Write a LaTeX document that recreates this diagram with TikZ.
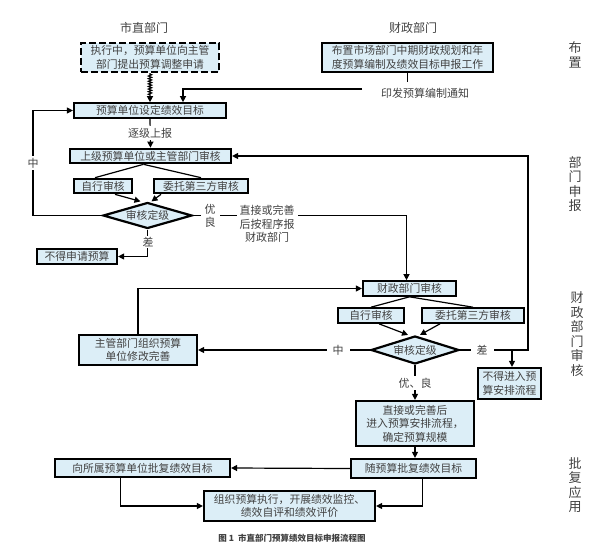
\documentclass[tikz,border=0pt]{standalone}
\usepackage{fontspec}
\setmainfont{Noto Sans CJK SC}
\usetikzlibrary{shapes.geometric,arrows.meta,decorations.pathmorphing}
\definecolor{boxfill}{RGB}{220,238,247}
\definecolor{txt}{RGB}{65,65,65}
\tikzset{
  box/.style={draw=black, line width=2.2pt, fill=boxfill, text=txt, inner xsep=0pt, inner ysep=2.2pt, align=center,
    font=\fontsize{10.8}{13.5}\selectfont},
  dbox/.style={box, dash pattern=on 7pt off 3pt},
  dia/.style={diamond, draw=black, line width=2.2pt, fill=boxfill, text=txt, inner sep=0pt, aspect=3.5,
    font=\fontsize{10.8}{13.5}\selectfont},
  conn/.style={line width=1.2pt, draw=black},
  arr/.style={conn, -{Triangle[length=6pt,width=6pt]}},
  lbl/.style={fill=white, text=txt, inner sep=1.5pt, align=center, font=\fontsize{11}{13.5}\selectfont},
  hdr/.style={text=txt, inner sep=0pt, font=\fontsize{12}{14}\selectfont},
  side/.style={text=txt, inner sep=0pt, align=center, font=\fontsize{13}{14.6}\selectfont},
}
\begin{document}
\begin{tikzpicture}[x=1pt,y=-1pt]
\useasboundingbox (0,0) rectangle (600,550);
% headers
\node[hdr] (h1) at (144,28) {市直部门};
\node[hdr] (h2) at (413,28) {财政部门};
\node[side] (s1) at (575,55) {布\\置};
\node[side] (s2) at (575,184) {部\\门\\申\\报};
\node[side] (s3) at (577,334) {财\\政\\部\\门\\审\\核};
\node[side] (s4) at (575,485) {批\\复\\应\\用};
% boxes
\node[dbox, minimum width=138pt, minimum height=29pt] (A) at (150,57.5) {执行中，预算单位向主管\\部门提出预算调整申请};
\node[box, minimum width=171pt, minimum height=29pt] (B) at (407.5,57.5) {布置市场部门中期财政规划和年\\度预算编制及绩效目标申报工作};
\node[box, minimum width=152pt, minimum height=13pt] (C) at (150,110.5) {预算单位设定绩效目标};
\node[box, minimum width=161pt, minimum height=11pt] (D) at (150.5,156) {上级预算单位或主管部门审核};
\node[box, minimum width=58pt, minimum height=13pt] (E) at (103,186) {自行审核};
\node[box, minimum width=94pt, minimum height=13pt] (F) at (201,186) {委托第三方审核};
\node[dia, minimum width=89pt, minimum height=26pt] (G) at (147.5,215.5) {审核定级};
\node[box, minimum width=80pt, minimum height=15pt] (Q) at (77,256.5) {不得申请预算};
\node[box, minimum width=93pt, minimum height=11pt] (H) at (409.5,288.5) {财政部门审核};
\node[box, minimum width=118pt, minimum height=30pt] (I) at (138,350) {主管部门组织预算\\单位修改完善};
\node[box, minimum width=66pt, minimum height=13pt] (J) at (371,315.5) {自行审核};
\node[box, minimum width=102pt, minimum height=13pt] (K) at (473,315.5) {委托第三方审核};
\node[dia, minimum width=88pt, minimum height=28pt] (D2) at (415,350) {审核定级};
\node[box, minimum width=63pt, minimum height=31pt] (L) at (509.5,383.5) {不得进入预\\算安排流程};
\node[box, minimum width=118pt, minimum height=45pt] (M) at (415,423.5) {直接或完善后\\进入预算安排流程，\\确定预算规模};
\node[box, minimum width=125pt, minimum height=19pt] (N) at (413.5,468.5) {随预算批复绩效目标};
\node[box, minimum width=175pt, minimum height=18pt] (O) at (142.5,468) {向所属预算单位批复绩效目标};
\node[box, minimum width=171pt, minimum height=30pt] (P) at (289.5,506) {组织预算执行，开展绩效监控、\\绩效自评和绩效评价};
% coordinates
\coordinate (y1) at (362,89);
\coordinate (l1) at (33,215.5);
\coordinate (r1) at (528,350);
% connectors
\draw[arr, decorate, decoration={zigzag, amplitude=1.6pt, segment length=2.6pt, pre length=1pt, post length=6pt}] (A.south) -- (C.north);
\draw[conn] (B.south) -- ++(0,9);
\draw[arr] (y1) -| ([xshift=33pt]C.north);
\draw[arr] (C.south) -- (D.north);
\draw[conn] ([xshift=-7pt]D.south) -- ([xshift=-8pt]E.north);
\draw[conn] ([xshift=-7pt]D.south) -- (F.north);
\draw[arr] ([xshift=12pt]E.south) -- ([xshift=-7pt]G.north);
\draw[arr] ([xshift=-40pt]F.south) -- ([xshift=4pt]G.north);
\draw[arr] (G.west) -- (l1) |- (C.west);
\draw[arr] (G.south) |- (Q.east);
\draw[arr] (G.east) -| ([xshift=-3pt]H.north);
\draw[conn] (H.south) -- (J.north);
\draw[conn] (H.south) -- (K.north);
\draw[arr] ([xshift=8pt]J.south) -- ([xshift=-7pt]D2.north);
\draw[arr] ([xshift=-33pt]K.south) -- ([xshift=5pt]D2.north);
\draw[arr] (D2.west) -- (I.east);
\draw[arr] (I.north) |- (H.west);
\draw[arr] (D2.east) -- (r1) |- (D.east);
\draw[arr] ([xshift=2.5pt]L.north |- D2.east) -- ([xshift=2.5pt]L.north);
\draw[arr] (D2.south) -- (M.north);
\draw[arr] (M.south) -- (M.south |- N.north);
\draw[arr] (N.west) -- (O.east);
\draw[arr] ([xshift=-22pt]O.south) |- (P.west);
\draw[arr] ([xshift=9pt]N.south) |- (P.east);
% labels
\node[text=txt, inner sep=0pt, font=\fontsize{11}{13.5}\selectfont] (t1) at (425,93) {印发预算编制通知};
\node[lbl] (t2) at (150,133) {逐级上报};
\node[lbl] (t3) at (33,163) {中};
\node[lbl] (t4) at (148,242) {差};
\node[lbl, inner xsep=4pt] (t5) at (210,216) {优\\良};
\node[lbl, inner xsep=3pt] (t6) at (267,224) {直接或完善\\后按程序报\\财政部门};
\node[lbl, inner xsep=6pt] (t7) at (338,350) {中};
\node[lbl, inner xsep=6pt] (t8) at (482,350) {差};
\node[lbl] (t9) at (415,383) {优、良};
\node[text=txt, inner sep=0pt, font=\fontsize{8.5}{10}\selectfont\bfseries] (cap) at (292,538) {图 1\enspace 市直部门预算绩效目标申报流程图};
\end{tikzpicture}
\end{document}
